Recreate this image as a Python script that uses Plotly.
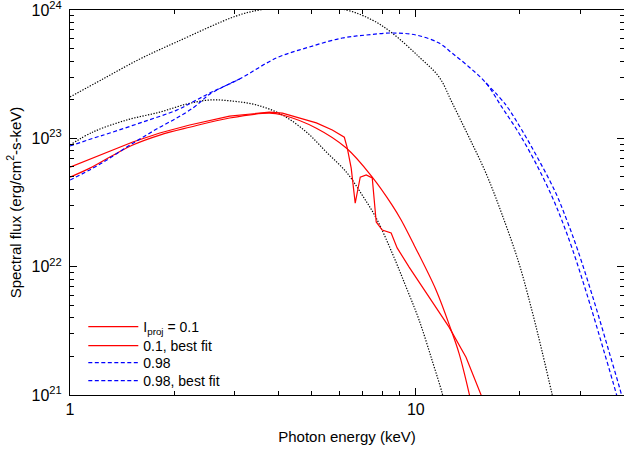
import math
import plotly.graph_objects as go

# Photon energy (keV) / spectral flux (erg/cm^2-s-keV)
bb_hot_E = [1.0, 1.245, 1.592, 2.035, 3.032, 3.532, 4.70, 6.30, 7.48, 8.54, 10.22, 11.67, 12.73,
            14.25, 15.95, 17.74, 19.86, 21.65, 23.13, 24.73, 25.23]
bb_hot_F = [2.10e23, 2.90e23, 4.15e23, 5.64e23, 9.00e23, 1.00e24, 1.10e24, 1.00e24, 8.36e23, 6.62e23,
            4.31e23, 3.01e23, 1.90e23, 1.02e23, 5.36e22, 2.57e22, 1.07e22, 4.59e21, 2.24e21, 1.04e21, 8.3e20]

bb_cold_E = [1.0, 1.165, 1.460, 1.818, 2.175, 2.534, 2.953, 3.462, 4.115, 4.826, 5.511, 6.296, 6.999,
             7.683, 8.541, 9.376, 10.22, 11.14, 11.91, 12.15]
bb_cold_F = [8.87e22, 1.12e23, 1.39e23, 1.60e23, 1.85e23, 1.99e23, 1.95e23, 1.82e23, 1.52e23, 1.12e23,
             7.82e22, 5.46e22, 3.61e22, 2.39e22, 1.28e22, 6.93e21, 3.84e21, 1.87e21, 1.04e21, 8.3e20]

red_E = [1.0, 1.142, 1.304, 1.519, 1.818, 2.219, 2.894, 3.775, 4.115, 4.607, 5.157, 5.735, 6.213, 6.337,
         6.504, 6.680, 6.907, 7.188, 7.482, 7.683, 7.995, 8.486, 8.832, 9.565, 10.92, 12.48, 13.97,
         15.43, 15.74]
red_F = [5.97e22, 6.90e22, 7.96e22, 9.36e22, 1.10e23, 1.27e23, 1.49e23, 1.60e23, 1.57e23, 1.44e23,
         1.32e23, 1.16e23, 1.02e23, 8.40e22, 5.86e22, 3.13e22, 4.99e22, 5.18e22, 4.91e22, 2.23e22,
         1.93e22, 1.83e22, 1.40e22, 9.93e21, 5.79e21, 3.38e21, 1.97e21, 1.04e21, 8.8e20]

red_fit_E = [1.0, 1.142, 1.304, 1.519, 1.818, 2.219, 2.894, 3.775, 4.115, 5.157, 6.296, 7.482, 8.541,
             9.07, 9.89, 11.44, 12.65, 13.33, 14.25, 14.44]
red_fit_F = [4.99e22, 5.86e22, 7.15e22, 8.87e22, 1.06e23, 1.22e23, 1.44e23, 1.57e23, 1.52e23, 1.20e23,
             8.40e22, 4.99e22, 3.02e22, 2.31e22, 1.47e22, 6.58e21, 3.21e21, 2.12e21, 1.04e21, 8.8e20]

blue_E = [1.0, 1.165, 1.304, 1.624, 2.035, 2.264, 2.534, 3.093, 3.955, 4.923, 6.131, 7.188, 8.541,
          10.02, 11.67, 12.73, 14.25, 15.95, 17.74, 19.86, 22.23, 24.73, 26.42, 28.42, 31.62, 34.92,
          38.08, 38.85]
blue_F = [8.71e22, 1.00e23, 1.10e23, 1.34e23, 1.66e23, 1.92e23, 2.25e23, 2.90e23, 4.23e23, 5.15e23,
          6.05e23, 6.38e23, 6.62e23, 6.38e23, 5.53e23, 4.62e23, 3.60e23, 2.70e23, 1.75e23, 1.10e23,
          6.41e22, 3.55e22, 2.31e22, 1.35e22, 5.50e21, 2.24e21, 1.00e21, 8.06e20]

blue_fit_E = [1.0, 1.165, 1.304, 1.460, 1.624, 1.818, 2.035, 2.264, 2.419, 2.534, 3.093, 3.955, 4.923,
              6.131, 7.188, 8.541, 10.02, 11.67, 12.73, 14.25, 15.95, 18.21, 20.26, 22.68, 25.40,
              27.32, 29.38, 32.69, 36.09, 39.36, 40.15]
blue_fit_F = [4.73e22, 5.86e22, 7.02e22, 8.55e22, 1.02e23, 1.22e23, 1.44e23, 1.72e23, 1.99e23, 2.21e23,
              2.90e23, 4.23e23, 5.15e23, 6.05e23, 6.38e23, 6.62e23, 6.38e23, 5.53e23, 4.62e23, 3.60e23,
              2.70e23, 1.82e23, 1.16e23, 6.78e22, 3.75e22, 2.31e22, 1.35e22, 5.50e21, 2.24e21,
              1.00e21, 8.06e20]

x_major = [1, 10]
x_major_text = ["1", "10"]
x_minor = [2, 3, 4, 5, 6, 7, 8, 9, 20, 30, 40]
y_major = [1e21, 1e22, 1e23, 1e24]
y_major_text = ["10<sup>21</sup>", "10<sup>22</sup>", "10<sup>23</sup>", "10<sup>24</sup>"]
y_minor = [float(k) * 10.0 ** n for n in (21, 22, 23) for k in range(2, 10)]

# where the two 0.98 curves coincide, draw the shared stretch only once (keeps the dashes clean)
shared_pts = set(zip(blue_E, blue_F))
is_shared = [(e, f) in shared_pts for e, f in zip(blue_fit_E, blue_fit_F)]
blue_fit_plot = []
for i, f in enumerate(blue_fit_F):
    inner = 0 < i < len(blue_fit_F) - 1 and is_shared[i - 1] and is_shared[i] and is_shared[i + 1]
    blue_fit_plot.append(None if inner else f)

FONT = "Liberation Sans, Arial, Helvetica, sans-serif"
DOT = "1.3px,1.5px"
DASH = "4px,2.5px"

fig = go.Figure()
fig.add_trace(go.Scatter(x=bb_hot_E, y=bb_hot_F, mode="lines", showlegend=False,
                         line=dict(color="black", width=1.2, dash=DOT, shape="spline")))
fig.add_trace(go.Scatter(x=bb_cold_E, y=bb_cold_F, mode="lines", showlegend=False,
                         line=dict(color="black", width=1.2, dash=DOT, shape="spline")))
fig.add_trace(go.Scatter(x=red_E, y=red_F, mode="lines", name="I<sub>proj</sub> = 0.1", legend="legend",
                         line=dict(color="#ff0000", width=1.2)))
fig.add_trace(go.Scatter(x=red_fit_E, y=red_fit_F, mode="lines", name="0.1, best fit", legend="legend2",
                         line=dict(color="#ff0000", width=1.2, shape="spline")))
fig.add_trace(go.Scatter(x=blue_E, y=blue_F, mode="lines", name="0.98", legend="legend3",
                         line=dict(color="#0000ff", width=1.2, dash=DASH, shape="spline")))
fig.add_trace(go.Scatter(x=blue_fit_E, y=blue_fit_plot, mode="lines", name="0.98, best fit", legend="legend4",
                         connectgaps=False,
                         line=dict(color="#0000ff", width=1.2, dash=DASH, shape="spline")))

def leg(yc):
    return dict(x=0.024, y=yc, xanchor="left", yanchor="middle", bgcolor="rgba(0,0,0,0)",
                font=dict(size=14, family=FONT), itemwidth=50, borderwidth=0)

fig.update_layout(
    width=624, height=449,
    margin=dict(l=70, r=0, t=10, b=54),
    paper_bgcolor="white", plot_bgcolor="white",
    font=dict(family=FONT, size=14, color="black"),
    legend=leg(0.1766), legend2=leg(0.1273), legend3=leg(0.0831), legend4=leg(0.0364),
)
fig.update_xaxes(
    type="log", range=[0, math.log10(40)], tickmode="array", tickvals=x_major, ticktext=x_major_text,
    tickfont=dict(size=16), ticklabeloverflow="allow",
    ticks="inside", ticklen=7, tickcolor="black", showline=True, linecolor="black", linewidth=1,
    mirror="allticks", showgrid=False, zeroline=False,
    minor=dict(tickmode="array", tickvals=x_minor, ticks="inside", ticklen=4, tickcolor="black", showgrid=False),
    title=dict(text="Photon energy (keV)", standoff=14, font=dict(size=15)),
)
fig.update_yaxes(
    type="log", range=[21, 24], tickmode="array", tickvals=y_major, ticktext=y_major_text,
    tickfont=dict(size=16), ticklabelstandoff=4, ticklabeloverflow="allow",
    ticks="inside", ticklen=7, tickcolor="black", showline=True, linecolor="black", linewidth=1,
    mirror="allticks", showgrid=False, zeroline=False,
    minor=dict(tickmode="array", tickvals=y_minor, ticks="inside", ticklen=4, tickcolor="black", showgrid=False),
    title=dict(text="Spectral flux (erg/cm<sup>2</sup>-s-keV)", standoff=6, font=dict(size=15)),
)

fig.write_html("out.html")
